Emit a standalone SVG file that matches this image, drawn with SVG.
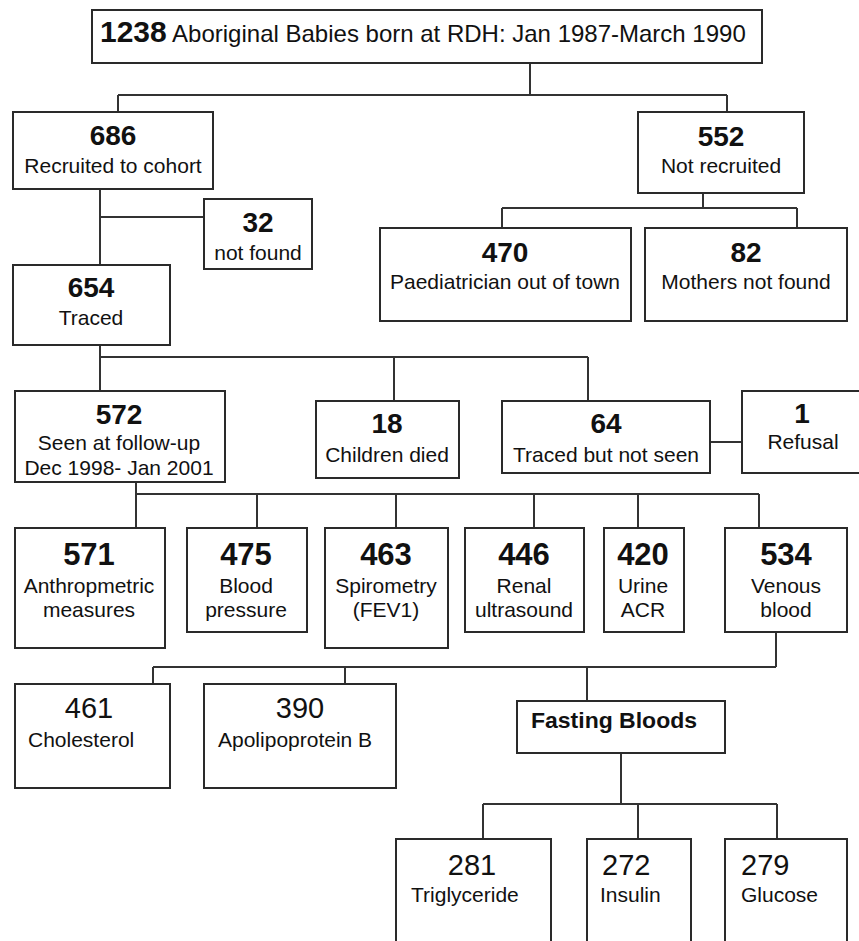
<svg xmlns="http://www.w3.org/2000/svg" width="859" height="941" viewBox="0 0 859 941">
<style>
.box{fill:#fff;stroke:#2a2a2a;stroke-width:2}
.ln{fill:none;stroke:#333;stroke-width:2}
text{font-family:"Liberation Sans",Arial,sans-serif;fill:#111}
.n{font-size:28px;font-weight:bold;text-anchor:middle}
.nb{font-size:31px;font-weight:bold;text-anchor:middle}
.nr{font-size:29px;text-anchor:middle}
.l{font-size:21px;text-anchor:middle}
.ls{font-size:21px}
</style>
<rect width="859" height="941" fill="#fff"/>
<g id="connectors" class="ln">
<path d="M530,63V95M118,95H727M118,95V112M727,95V112"/>
<path d="M100,175V265M100,217H204"/>
<path d="M703,193V208M502,208H797M502,208V228M797,208V228"/>
<path d="M100,345V391M100,357H588M394,357V401M588,357V401"/>
<path d="M710,442H742"/>
<path d="M136,478V528M136,494H759M257,494V528M396,494V528M534,494V528M638,494V528M759,494V528"/>
<path d="M776,632V667M153,667H776M153,667V684M345,667V684M587,667V701"/>
<path d="M621,753V804M483,804H777M483,804V839M638,804V839M777,804V839"/>
</g>
<g id="n1238"><rect class="box" x="92" y="10" width="670" height="53"/>
<text x="100" y="42"><tspan font-size="30" font-weight="bold">1238</tspan><tspan font-size="24"> Aboriginal Babies born at RDH: Jan 1987-March 1990</tspan></text></g>
<g id="n686"><rect class="box" x="13" y="112" width="200" height="77"/>
<text class="n" x="113" y="145">686</text><text class="l" x="113" y="173">Recruited to cohort</text></g>
<g id="n552"><rect class="box" x="638" y="112" width="166" height="81"/>
<text class="n" x="721" y="146">552</text><text class="l" x="721" y="173">Not recruited</text></g>
<g id="n32"><rect class="box" x="204" y="199" width="108" height="70"/>
<text class="n" x="258" y="232">32</text><text class="l" x="258" y="260">not found</text></g>
<g id="n470"><rect class="box" x="380" y="228" width="251" height="93"/>
<text class="n" x="505" y="262">470</text><text class="l" x="505" y="289">Paediatrician out of town</text></g>
<g id="n82"><rect class="box" x="645" y="228" width="202" height="93"/>
<text class="n" x="746" y="262">82</text><text class="l" x="746" y="289">Mothers not found</text></g>
<g id="n654"><rect class="box" x="13" y="265" width="157" height="80"/>
<text class="n" x="91" y="297">654</text><text class="l" x="91" y="325">Traced</text></g>
<g id="n572"><rect class="box" x="15" y="391" width="210" height="91"/>
<text class="n" x="119" y="424">572</text><text class="l" x="119" y="450">Seen at follow-up</text><text class="l" x="119" y="475">Dec 1998- Jan 2001</text></g>
<g id="n18"><rect class="box" x="316" y="401" width="143" height="77"/>
<text class="n" x="387" y="433">18</text><text class="l" x="387" y="462">Children died</text></g>
<g id="n64"><rect class="box" x="502" y="401" width="208" height="72"/>
<text class="n" x="606" y="433">64</text><text class="l" x="606" y="462">Traced but not seen</text></g>
<g id="n1"><rect class="box" x="742" y="391" width="130" height="82"/>
<text class="n" x="802" y="423">1</text><text class="l" x="803" y="449">Refusal</text></g>
<g id="n571"><rect class="box" x="15" y="528" width="150" height="120"/>
<text class="nb" x="89" y="565">571</text><text class="l" x="89" y="593">Anthropmetric</text><text class="l" x="89" y="617">measures</text></g>
<g id="n475"><rect class="box" x="187" y="528" width="120" height="104"/>
<text class="nb" x="246" y="565">475</text><text class="l" x="246" y="593">Blood</text><text class="l" x="246" y="617">pressure</text></g>
<g id="n463"><rect class="box" x="325" y="528" width="123" height="120"/>
<text class="nb" x="386" y="565">463</text><text class="l" x="386" y="593">Spirometry</text><text class="l" x="386" y="617">(FEV1)</text></g>
<g id="n446"><rect class="box" x="465" y="528" width="119" height="104"/>
<text class="nb" x="524" y="565">446</text><text class="l" x="524" y="593">Renal</text><text class="l" x="524" y="617">ultrasound</text></g>
<g id="n420"><rect class="box" x="604" y="528" width="80" height="104"/>
<text class="nb" x="643" y="565">420</text><text class="l" x="643" y="593">Urine</text><text class="l" x="643" y="617">ACR</text></g>
<g id="n534"><rect class="box" x="725" y="528" width="122" height="104"/>
<text class="nb" x="786" y="565">534</text><text class="l" x="786" y="593">Venous</text><text class="l" x="786" y="617">blood</text></g>
<g id="n461"><rect class="box" x="15" y="684" width="155" height="104"/>
<text class="nr" x="89" y="718">461</text><text class="ls" x="28" y="747">Cholesterol</text></g>
<g id="n390"><rect class="box" x="204" y="684" width="192" height="104"/>
<text class="nr" x="300" y="718">390</text><text class="ls" x="218" y="747">Apolipoprotein B</text></g>
<g id="nfasting"><rect class="box" x="517" y="701" width="208" height="52"/>
<text x="531" y="728" font-size="22" font-weight="bold" textLength="166" lengthAdjust="spacingAndGlyphs">Fasting Bloods</text></g>
<g id="n281"><rect class="box" x="396" y="839" width="155" height="120"/>
<text class="nr" x="472" y="875">281</text><text class="ls" x="411" y="902">Triglyceride</text></g>
<g id="n272"><rect class="box" x="587" y="839" width="104" height="120"/>
<text x="602" y="875" font-size="29">272</text><text class="ls" x="600" y="902">Insulin</text></g>
<g id="n279"><rect class="box" x="725" y="839" width="122" height="120"/>
<text x="741" y="875" font-size="29">279</text><text class="ls" x="741" y="902">Glucose</text></g>
</svg>
